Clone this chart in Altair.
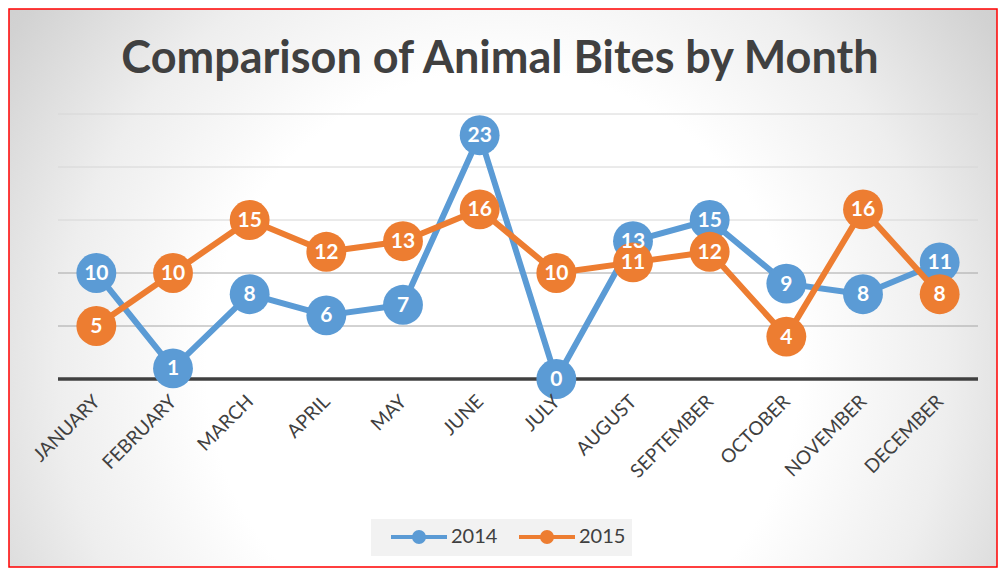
import altair as alt
import pandas as pd

# ---- data ----
months = ["JANUARY", "FEBRUARY", "MARCH", "APRIL", "MAY", "JUNE", "JULY",
          "AUGUST", "SEPTEMBER", "OCTOBER", "NOVEMBER", "DECEMBER"]
bites_2014 = [10, 1, 8, 6, 7, 23, 0, 13, 15, 9, 8, 11]
bites_2015 = [5, 10, 15, 12, 13, 16, 10, 11, 12, 4, 16, 8]
years = ["2014", "2015"]
grid_values = [5, 10, 15, 20, 25]
baseline_value = [0]
title_text = "Comparison of Animal Bites by Month"

df = pd.DataFrame({
    "month": months * 2,
    "year": [years[0]] * len(months) + [years[1]] * len(months),
    "bites": bites_2014 + bites_2015,
})

# ---- style ----
W, H = 920, 265
FONT = "Lato"
BLUE, ORANGE = "#5b9bd5", "#ed7d31"
TXT = "#404040"

legend_path = ("M-2.8,0L2.8,0"
               "M-0.5,0A0.5,0.5,0,1,0,0.5,0A0.5,0.5,0,1,0,-0.5,0"
               "M-0.2,0A0.2,0.2,0,1,0,0.2,0A0.2,0.2,0,1,0,-0.2,0")

legend = alt.Legend(
    title=None, orient="none", legendX=313, legendY=405,
    direction="horizontal", columns=2,
    labelFont=FONT, labelFontSize=20, labelColor=TXT,
    symbolType=legend_path, symbolSize=400, symbolStrokeWidth=4,
    symbolOffset=30, labelOffset=20, columnPadding=7,
    fillColor="#f2f2f2", padding=6,
)

x_enc = alt.X("month:N", sort=months, scale=alt.Scale(domain=months),
              axis=alt.Axis(title=None, labelAngle=-45, labelAlign="right",
                            labelBaseline="middle", labelFont=FONT,
                            labelFontSize=19, labelColor=TXT, labelPadding=19,
                            ticks=False, domain=False, grid=False, zindex=1))
y_enc = alt.Y("bites:Q", scale=alt.Scale(domain=[0, 25], nice=False), axis=None)
color_enc = alt.Color("year:N", scale=alt.Scale(domain=years, range=[BLUE, ORANGE]),
                      legend=legend)

gradient = {
    "gradient": "radial",
    "x1": 0.5, "y1": 0.58, "r1": 0.0,
    "x2": 0.5, "y2": 0.58, "r2": 0.75,
    "stops": [
        {"offset": 0.0, "color": "#ffffff"},
        {"offset": 0.4, "color": "#ffffff"},
        {"offset": 0.6, "color": "#eeeeee"},
        {"offset": 0.8, "color": "#d2d2d2"},
        {"offset": 1.0, "color": "#c4c4c4"},
    ],
}

background = alt.Chart(pd.DataFrame({"a": [0]})).mark_rect(
    fill=gradient, stroke="#ff0000", strokeWidth=1.5
).encode(x=alt.value(-49), x2=alt.value(939), y=alt.value(-105), y2=alt.value(453))

title = alt.Chart(pd.DataFrame({"t": [title_text]})).mark_text(
    font=FONT, fontSize=45, fontWeight="bold", color=TXT,
    align="center", baseline="alphabetic"
).encode(text="t:N", x=alt.value(442), y=alt.value(-41))

grid = alt.Chart(pd.DataFrame({"v": grid_values})).mark_rule(strokeWidth=1).encode(
    y=alt.Y("v:Q", axis=None),
    color=alt.condition(alt.datum.v <= 10, alt.value("#a6a6a6"), alt.value("#d6d6d6")),
)

base_rule = alt.Chart(pd.DataFrame({"v": baseline_value})).mark_rule(
    strokeWidth=3.5, color=TXT
).encode(y=alt.Y("v:Q", axis=None))

base = alt.Chart(df)


def series(yr):
    sub = base.transform_filter(alt.datum.year == yr)
    line = sub.mark_line(strokeWidth=6, strokeCap="round", strokeJoin="round").encode(
        x=x_enc, y=y_enc, color=color_enc)
    pts = sub.mark_circle(size=1590, opacity=1).encode(x=x_enc, y=y_enc, color=color_enc)
    return line, pts


def labels(yr):
    sub = base.transform_filter(alt.datum.year == yr)
    return sub.mark_text(font=FONT, fontSize=21, fontWeight="bold", color="white",
                         align="center", baseline="middle", dy=1).encode(
        x=x_enc, y=y_enc, text="bites:Q")


l14, p14 = series(years[0])
l15, p15 = series(years[1])

chart = alt.layer(
    background, title, grid, base_rule,
    l14, p14, l15, p15, labels(years[0]), labels(years[1]),
).properties(
    width=W, height=H,
    autosize=alt.AutoSizeParams(type="none"),
    padding={"left": 50, "top": 106, "right": 20, "bottom": 189},
).configure_view(stroke=None)

chart.save("out.html", embed_options={"renderer": "svg", "actions": False})
